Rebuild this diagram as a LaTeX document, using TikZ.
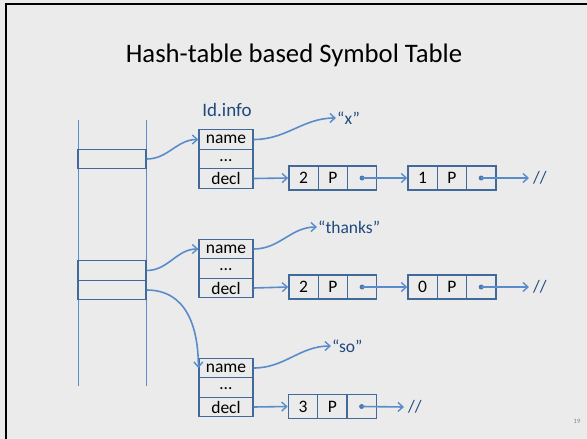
\documentclass[tikz,border=0pt]{standalone}
\usepackage{fontspec}
\setmainfont{Carlito}
\usetikzlibrary{arrows.meta}
\definecolor{slidebg}{HTML}{EBEBEB}
\definecolor{boxblue}{HTML}{41699A}
\definecolor{linkblue}{HTML}{5A8CCB}
\definecolor{textblue}{HTML}{1F497D}
\tikzset{
  cellbox/.style={draw=boxblue, line width=1.3pt, rectangle, inner sep=0pt, text=black, font=\fontsize{17.5}{17.5}\selectfont},
  fieldbox/.style={cellbox, minimum width=54pt, minimum height=19.5pt},
  listcell/.style={cellbox, minimum width=29.3pt, minimum height=24pt},
  bucket/.style={draw=boxblue, line width=1.3pt, rectangle, inner sep=0pt, minimum width=68pt},
  link/.style={draw=linkblue, line width=1.6pt, -{Straight Barb[length=5pt,width=9pt,line width=1.4pt]}},
  ptrdot/.style={circle, fill=linkblue!85!black, inner sep=0pt, minimum size=5pt},
  strlabel/.style={anchor=west, inner sep=1pt, text=textblue, font=\fontsize{17.5}{17.5}\selectfont},
  nullmark/.style={anchor=west, inner sep=4pt, text=textblue, font=\fontsize{17.5}{17.5}\selectfont},
}
\begin{document}
\begin{tikzpicture}[x=1pt,y=-1pt]
  % slide background and frame
  \fill[slidebg] (0,0) rectangle (587,439);
  \useasboundingbox (0,0) rectangle (587,439);
  \draw[black, line width=2.5pt] (6,441) -- (6,4) -- (589,4);

  % title
  \node[font=\fontsize{26.7}{26.7}\selectfont] (title) at (294,55) {Hash-table based Symbol Table};
  \node[text=gray, font=\fontsize{6.5}{6.5}\selectfont] (pageno) at (577,421) {19};

  % hash table column
  \coordinate (colLtop) at (78,120);
  \coordinate (colLbot) at (78,386);
  \coordinate (colRtop) at (146,120);
  \coordinate (colRbot) at (146,386);
  \draw[linkblue, line width=1pt] (colLtop) -- (colLbot);
  \draw[linkblue, line width=1pt] (colRtop) -- (colRbot);
  \node[bucket, minimum height=18.5pt] (b1) at (112,159) {};
  \node[bucket, minimum height=19.5pt] (b2) at (112,270.5) {};
  \node[bucket, minimum height=19.5pt] (b3) at (112,290) {};

  \node[text=textblue, font=\fontsize{19}{19}\selectfont] (idinfo) at (227,110) {Id.info};

  % record 1
  \node[fieldbox] (name1) at (226,139.5) {name};
  \node[fieldbox] (dots1) at (226,159) {\raisebox{-0.25em}{…}};
  \node[fieldbox] (decl1) at (226,178.5) {decl};
  \node[listcell] (c11) at (303.5,178) {2};
  \node[listcell] (c12) at (332.8,178) {P};
  \node[listcell] (c13) at (362.1,178) {};
  \node[ptrdot] (p11) at (c13) {};
  \node[listcell] (c21) at (422.6,178) {1};
  \node[listcell] (c22) at (451.9,178) {P};
  \node[listcell] (c23) at (481.2,178) {};
  \node[ptrdot] (p12) at (c23) {};
  \node[nullmark] (nil1) at (529,178) {//};
  \node[strlabel] (lx) at (336,118) {“x”};

  % record 2
  \node[fieldbox] (name2) at (226,249) {name};
  \node[fieldbox] (dots2) at (226,268.5) {\raisebox{-0.25em}{…}};
  \node[fieldbox] (decl2) at (226,288) {decl};
  \node[listcell] (c31) at (303.5,287) {2};
  \node[listcell] (c32) at (332.8,287) {P};
  \node[listcell] (c33) at (362.1,287) {};
  \node[ptrdot] (p21) at (c33) {};
  \node[listcell] (c41) at (422.6,287) {0};
  \node[listcell] (c42) at (451.9,287) {P};
  \node[listcell] (c43) at (481.2,287) {};
  \node[ptrdot] (p22) at (c43) {};
  \node[nullmark] (nil2) at (529,287) {//};
  \node[strlabel] (lthanks) at (317,227) {“thanks”};

  % record 3
  \node[fieldbox] (name3) at (226,368) {name};
  \node[fieldbox] (dots3) at (226,387.5) {\raisebox{-0.25em}{…}};
  \node[fieldbox] (decl3) at (226,407) {decl};
  \node[listcell] (c51) at (303,406.5) {3};
  \node[listcell] (c52) at (332.3,406.5) {P};
  \node[listcell] (c53) at (361.6,406.5) {};
  \node[ptrdot] (p31) at (c53) {};
  \node[nullmark] (nil3) at (404,407) {//};
  \node[strlabel] (lso) at (331,346) {“so”};

  % bucket pointers
  \draw[link] (b1.east) to[out=0,in=180] (name1.west);
  \draw[link] (b2.east) to[out=0,in=180] (name2.west);
  \draw[link] (b3.east) to[out=0,in=90,looseness=1.1] (name3.west);

  % name pointers
  \draw[link] (name1.east) to[out=0,in=180] (lx.west);
  \draw[link] (name2.east) to[out=0,in=180] (lthanks.west);
  \draw[link] (name3.east) to[out=0,in=180] (lso.west);

  % decl chains
  \draw[link] (decl1.east) -- (c11.west);
  \draw[link] (p11.center) -- (c21.west);
  \draw[link] (p12.center) -- (nil1.west);
  \draw[link] (decl2.east) -- (c31.west);
  \draw[link] (p21.center) -- (c41.west);
  \draw[link] (p22.center) -- (nil2.west);
  \draw[link] (decl3.east) -- (c51.west);
  \draw[link] (p31.center) -- (nil3.west);
\end{tikzpicture}
\end{document}
